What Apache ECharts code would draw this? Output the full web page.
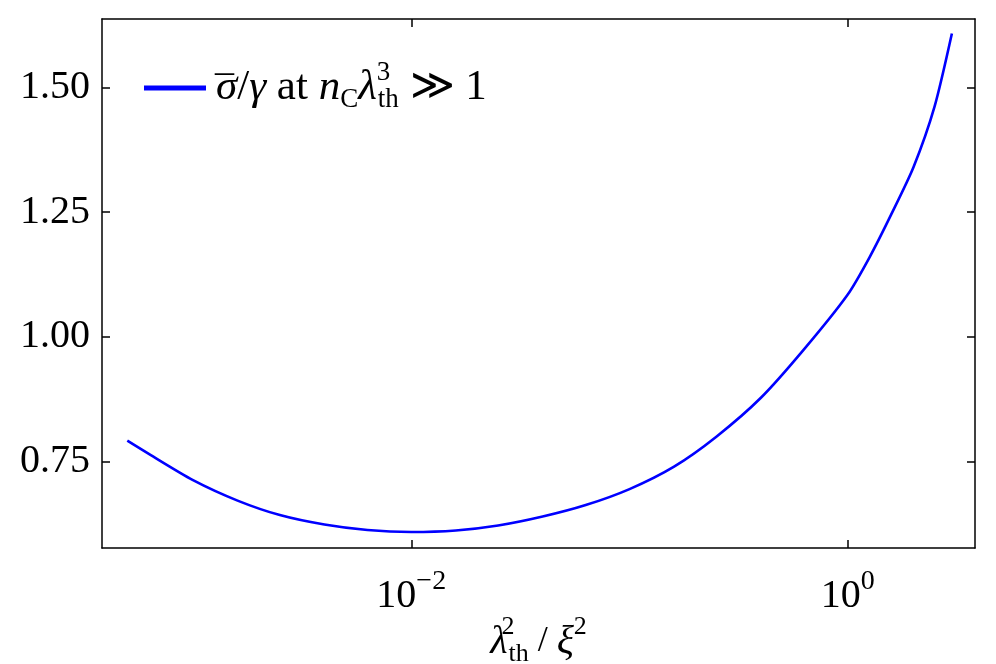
<!DOCTYPE html>
<html>
<head>
<meta charset="utf-8">
<script src="https://cdn.jsdelivr.net/npm/echarts@6/dist/echarts.min.js"></script>
<style>
html,body{margin:0;padding:0;background:#fff;}
#chart{width:996px;height:664px;}
</style>
</head>
<body>
<div id="chart"></div>
<script>
// Data
const xValues = [5e-4, 6.3e-4, 1e-3, 1.6e-3, 2.5e-3, 4e-3, 6.3e-3, 1e-2, 1.6e-2, 2.5e-2, 4e-2, 6.3e-2, 0.1, 0.16, 0.25, 0.4, 0.63, 1.0, 1.26, 1.58, 2.0, 2.5, 3.0];
const yValues = [0.792, 0.765, 0.713, 0.672, 0.643, 0.624, 0.613, 0.609, 0.612, 0.622, 0.640, 0.663, 0.695, 0.740, 0.800, 0.878, 0.975, 1.085, 1.160, 1.245, 1.340, 1.462, 1.608];
const xTickValues = [0.01, 1];
const yTickValues = [0.75, 1.00, 1.25, 1.50];
const seriesName = 'sigma';

const FONT = 'Liberation Serif';
const xMin = Math.pow(10, -3.417);
const xMax = Math.pow(10, 0.583);
const yMin = 0.577;
const yMax = 1.637;

const lineData = xValues.map((x, i) => [x, yValues[i]]);

function powLabel(v) {
  const e = Math.round(Math.log10(v));
  return '{b|10}{e|' + (e < 0 ? '\u2212' : '') + Math.abs(e) + '}';
}

const tickStyle = {show: true, inside: true, length: 8, lineStyle: {color: '#000', width: 1.5}};
const lineStyleAx = {show: true, lineStyle: {color: '#000', width: 1.5}};

const chart = echarts.init(document.getElementById('chart'), null, {renderer: 'canvas'});
chart.setOption({
  animation: false,
  backgroundColor: '#fff',
  grid: {left: 102, right: 21, top: 19, bottom: 116, containLabel: false, outerBoundsMode: 'none'},
  legend: {
    left: 139, top: 54,
    itemWidth: 62, itemHeight: 5, itemGap: 0,
    icon: 'rect',
    data: [seriesName],
    formatter: function () {
      return '{mac|\u00af}{i|\u03c3}{r|/}{i|\u03b3}{r| at }{i|n}{sub|C}{i|\u03bb}{supz|3}{sub|th}{r| \u226b 1}';
    },
    textStyle: {
      fontFamily: FONT, fontSize: 43, color: '#000', padding: [0, 0, 0, 0],
      rich: {
        i: {fontFamily: FONT, fontStyle: 'italic', fontSize: 43, color: '#000'},
        r: {fontFamily: FONT, fontSize: 43, color: '#000'},
        mac: {fontFamily: FONT, fontSize: 38, color: '#000', width: 1, align: 'left', padding: [8, 0, 0, 4]},
        sub: {fontFamily: FONT, fontSize: 27, color: '#000', padding: [23, 0, 0, 0]},
        supz: {fontFamily: FONT, fontSize: 27, color: '#000', width: 1, align: 'left', padding: [0, 0, 31, 0]}
      }
    }
  },
  xAxis: [{
    type: 'log', logBase: 10, min: xMin, max: xMax,
    position: 'bottom',
    axisLine: lineStyleAx,
    axisTick: Object.assign({customValues: xTickValues}, tickStyle),
    splitLine: {show: false},
    axisLabel: {
      customValues: xTickValues,
      margin: 20,
      formatter: powLabel,
      rich: {
        b: {fontFamily: FONT, fontSize: 40, color: '#000'},
        e: {fontFamily: FONT, fontSize: 28, color: '#000', padding: [0, 0, 28, 0]}
      }
    },
    name: '{i|\u03bb}{supz|2}{sub|th}{r| / }{i|\u03be}{sup|2}',
    nameLocation: 'middle',
    nameGap: 66,
    nameMoveOverlap: false,
    nameTextStyle: {
      rich: {
        i: {fontFamily: FONT, fontStyle: 'italic', fontSize: 40, color: '#000'},
        r: {fontFamily: FONT, fontSize: 36, color: '#000'},
        sub: {fontFamily: FONT, fontSize: 26, color: '#000', padding: [24, 0, 0, 0]},
        supz: {fontFamily: FONT, fontSize: 26, color: '#000', width: 1, align: 'left', padding: [0, 0, 30, 0]},
        sup: {fontFamily: FONT, fontSize: 26, color: '#000', padding: [0, 0, 30, 0]}
      }
    }
  }, {
    type: 'log', logBase: 10, min: xMin, max: xMax,
    position: 'top',
    axisLine: lineStyleAx,
    axisTick: Object.assign({customValues: xTickValues}, tickStyle),
    axisLabel: {show: false},
    splitLine: {show: false}
  }],
  yAxis: [{
    type: 'value', min: yMin, max: yMax,
    position: 'left',
    axisLine: lineStyleAx,
    axisTick: Object.assign({customValues: yTickValues}, tickStyle),
    splitLine: {show: false},
    axisLabel: {
      customValues: yTickValues,
      margin: 12,
      fontFamily: FONT, fontSize: 40, color: '#000',
      formatter: v => v.toFixed(2)
    }
  }, {
    type: 'value', min: yMin, max: yMax,
    position: 'right',
    axisLine: lineStyleAx,
    axisTick: Object.assign({customValues: yTickValues}, tickStyle),
    axisLabel: {show: false},
    splitLine: {show: false}
  }],
  series: [{
    name: seriesName,
    type: 'line',
    data: lineData,
    xAxisIndex: 0, yAxisIndex: 0,
    showSymbol: false,
    smooth: 0.25,
    lineStyle: {color: '#0000ff', width: 2.6},
    itemStyle: {color: '#0000ff'}
  }]
});
</script>
</body>
</html>
